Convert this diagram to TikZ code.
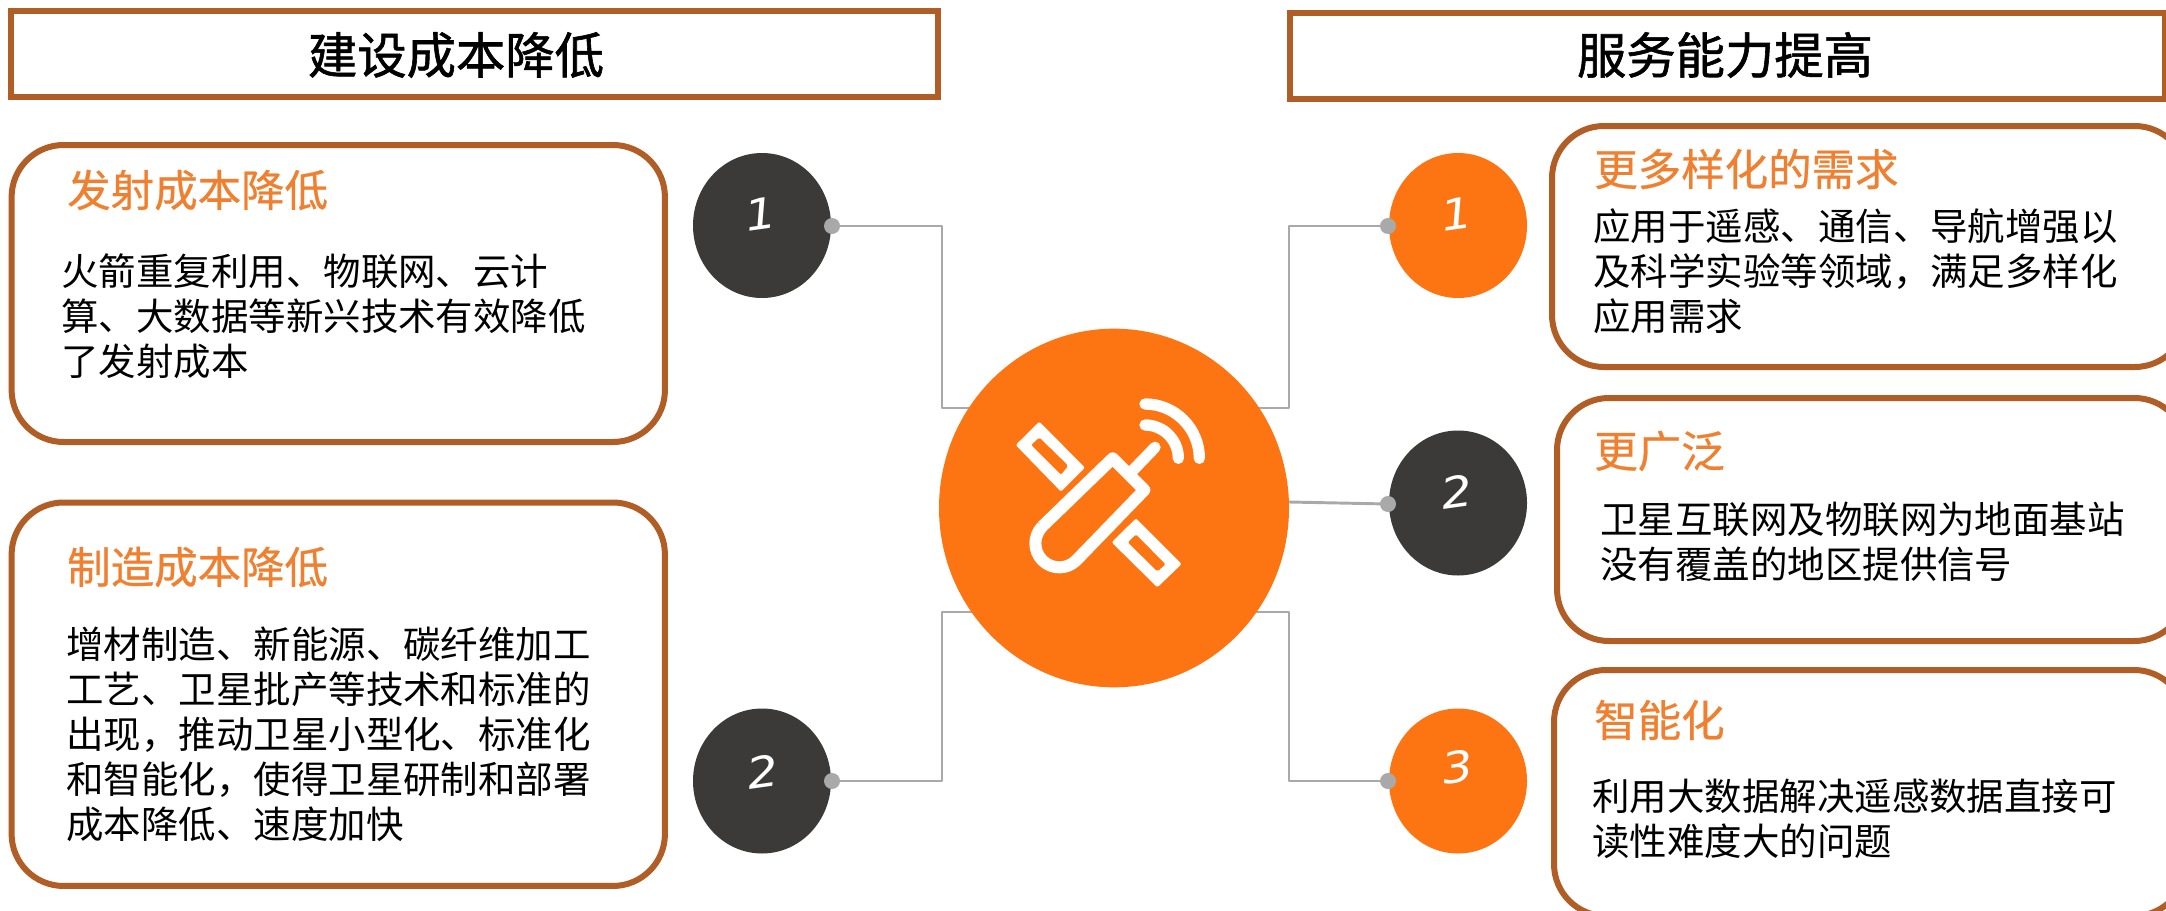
\documentclass[tikz,border=0pt]{standalone}
\usepackage{fontspec}
\setmainfont{Noto Sans CJK SC}
\newfontfamily\titlefont[FakeBold=1.2]{Noto Sans CJK SC}
\newfontfamily\headfont[FakeBold=0.6]{Noto Sans CJK SC}
\newfontfamily\numfont{DejaVu Sans Oblique}
\usepackage{xcolor}
\usetikzlibrary{shapes,positioning,calc,backgrounds}
\definecolor{boxbrown}{HTML}{B05E25}
\definecolor{headorange}{HTML}{F0802F}
\definecolor{hubfill}{HTML}{FD7512}
\definecolor{darkfill}{HTML}{3B3A38}
\definecolor{wiregray}{HTML}{A9A9A9}
\tikzset{
  titlebox/.style={draw=boxbrown, line width=4.5pt, fill=white, inner sep=0pt, minimum height=64.5pt},
  titletext/.style={inner sep=0pt, font=\fontsize{37}{44}\titlefont},
  cardbox/.style={draw=boxbrown, line width=4.5pt, fill=white, rounded corners=39pt, inner sep=0pt, anchor=north west},
  headtext/.style={anchor=west, inner sep=0pt, text=headorange, font=\fontsize{32.6}{39}\headfont},
  bodytext/.style={anchor=north west, inner sep=0pt, align=left, font=\fontsize{28.1}{33.75}\selectfont},
  numdark/.style={ellipse, fill=darkfill, inner sep=0pt, minimum width=103.5pt, minimum height=108.75pt},
  numorange/.style={numdark, fill=hubfill},
  numtext/.style={text=white, inner sep=0pt, rotate=8, xscale=1.15, font=\fontsize{32}{36}\numfont},
  wiredot/.style={circle, fill=wiregray, inner sep=0pt, minimum size=12pt},
  wire/.style={draw=wiregray, line width=2.2pt, line join=round},
}
\begin{document}
\begin{tikzpicture}[x=0.75pt, y=-0.75pt]
  \path[use as bounding box, clip] (0,0) rectangle (2166,910);

  % Title bars
  \node[titlebox, minimum width=695pt] (titleL) at (474.5,54) {};
  \node[titlebox, minimum width=656pt] (titleR) at (1727.5,55.5) {};
  \node[titletext] (titletextL) at (456,55) {建设成本降低};
  \node[titletext] (titletextR) at (1725,55) {服务能力提高};

  % Cards
  \node[cardbox, minimum width=490pt, minimum height=222.75pt] (cardL1) at (8.6,142) {};
  \node[cardbox, minimum width=490pt, minimum height=287.6pt] (cardL2) at (8.6,499.5) {};
  \node[cardbox, minimum width=476pt, minimum height=180.75pt] (cardR1) at (1549,123) {};
  \node[cardbox, minimum width=472pt, minimum height=182.25pt] (cardR2) at (1554,395) {};
  \node[cardbox, minimum width=474pt, minimum height=184.5pt] (cardR3) at (1551,667) {};

  % Card texts
  \node[headtext] (headL1) at (67,190) {发射成本降低};
  \node[bodytext] (bodyL1) at (61,253) {火箭重复利用、物联网、云计\\算、大数据等新兴技术有效降低\\了发射成本};
  \node[headtext] (headL2) at (67,567) {制造成本降低};
  \node[bodytext] (bodyL2) at (66,627) {增材制造、新能源、碳纤维加工\\工艺、卫星批产等技术和标准的\\出现，推动卫星小型化、标准化\\和智能化，使得卫星研制和部署\\成本降低、速度加快};
  \node[headtext] (headR1) at (1594,169) {更多样化的需求};
  \node[bodytext] (bodyR1) at (1593,208) {应用于遥感、通信、导航增强以\\及科学实验等领域，满足多样化\\应用需求};
  \node[headtext] (headR2) at (1594,451) {更广泛};
  \node[bodytext] (bodyR2) at (1600,502) {卫星互联网及物联网为地面基站\\没有覆盖的地区提供信号};
  \node[headtext] (headR3) at (1594,720) {智能化};
  \node[bodytext] (bodyR3) at (1592,779) {利用大数据解决遥感数据直接可\\读性难度大的问题};

  % Number circles
  \node[numdark] (numL1) at (762,225.5) {};
  \node[numdark] (numL2) at (762,781) {};
  \node[numorange] (numR1) at (1458,225.5) {};
  \node[numdark] (numR2) at (1458,503) {};
  \node[numorange] (numR3) at (1458,781) {};
  \node[numtext] (labL1) at (761,214) {1};
  \node[numtext] (labL2) at (763,772) {2};
  \node[numtext] (labR1) at (1457,214) {1};
  \node[numtext] (labR2) at (1457,492) {2};
  \node[numtext] (labR3) at (1458,767) {3};

  % Centre circle
  \node[ellipse, fill=hubfill, inner sep=0pt, minimum width=262.5pt, minimum height=269pt] (hub) at (1114,508) {};

  % Dots
  \node[wiredot] (dotL1) at (832,226) {};
  \node[wiredot] (dotL2) at (832,781) {};
  \node[wiredot] (dotR1) at (1388,226) {};
  \node[wiredot] (dotR2) at (1388,504) {};
  \node[wiredot] (dotR3) at (1388,781) {};

  % Connectors
  \coordinate (bendL1) at (942,408);
  \coordinate (bendL2) at (942,612);
  \coordinate (bendR1) at (1289,408);
  \coordinate (bendR2) at (1289,502);
  \coordinate (bendR3) at (1289,612);
  \begin{scope}[on background layer]
    \draw[wire] (dotL1.center) -| (bendL1) -- (hub.center |- bendL1);
    \draw[wire] (dotL2.center) -| (bendL2) -- (hub.center |- bendL2);
    \draw[wire] (dotR1.center) -| (bendR1) -- (hub.center |- bendR1);
    \draw[wire] (dotR2.center) -- (bendR2) -- (hub.center |- bendR2);
    \draw[wire] (dotR3.center) -| (bendR3) -- (hub.center |- bendR3);
  \end{scope}

  % Satellite icon
  \begin{scope}[shift={(900,300)}, x=0.25pt, y=-0.25pt]
    \fill[white, even odd rule, rounded corners=1.5pt] (418,365) -- (555,503) -- (483,575) -- (347,435) -- cycle
      (418,412) -- (505,497) -- (483,525) -- (393,435) -- cycle;
    \fill[white, even odd rule, rounded corners=1.5pt] (708,655) -- (845,792) -- (772,862) -- (635,727) -- cycle
      (708,703) -- (797,793) -- (772,815) -- (683,727) -- cycle;
    \draw[white, line width=9pt, line join=round] (427,679) -- (638,475) -- (733,570) -- (529,781)
      arc[start angle=45, end angle=225, radius=72];
    \draw[white, line width=8.5pt, line cap=round] (690,520) -- (765,442);
    \draw[white, line width=8.5pt, line cap=round] (735,375) arc[start angle=270, end angle=360, radius=100];
    \draw[white, line width=8.5pt, line cap=round] (735,312) arc[start angle=270, end angle=360, radius=163];
  \end{scope}
\end{tikzpicture}
\end{document}
